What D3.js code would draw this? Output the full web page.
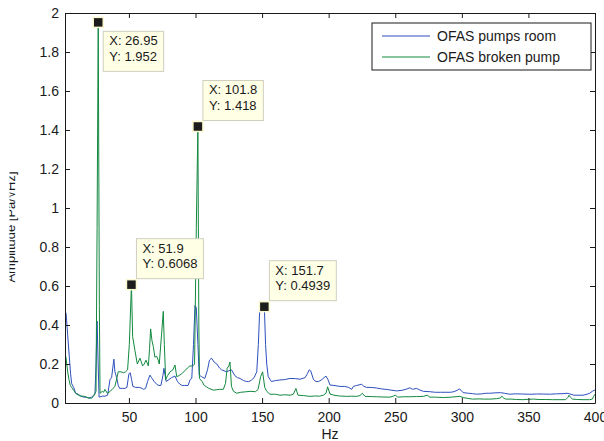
<!DOCTYPE html>
<html><head><meta charset="utf-8">
<script src="https://cdn.jsdelivr.net/npm/d3@7"></script>
<style>body{margin:0;background:#fff}svg{display:block}text{font-family:"Liberation Sans",Arial,sans-serif}</style>
</head><body>
<script>
const seriesNames = ["OFAS pumps room", "OFAS broken pump"];
const xTicks = [50,100,150,200,250,300,350,400];
const yTicks = [0,0.2,0.4,0.6,0.8,1,1.2,1.4,1.6,1.8,2];
const xLabel = "Hz";
const yLabel = "Amplitude [Pa/√Hz]";

const roomHz = [2,2.8,4,5.2,6.2,7,8.5,10,12,14,16,18,20,22,23.5,24.5,25.3,26.1,26.9,27.6,30,32,34,35.8,37,38.7,39.5,40.8,42,43,45,47,48.5,50,51,52,53,55,57,59,61,62.5,64,65.8,67,69,71,72.5,74,75.5,76.3,77.2,78,80,82,84.6,86.5,88.3,90,92,94.4,96,97.2,98.5,99.6,100.6,101.8,102.8,104.5,107,109,110.5,112,114,116,118,119.6,121.5,123.4,125,127,129.6,131.5,133.4,136,138.4,140,142,144,146,147.2,148.2,150,151.7,152.6,153.5,154.6,157,160,163.4,167,171,175,178.5,182.3,184,185.4,186.5,188.6,190.5,192.4,194.9,196.5,198,199.5,201,204,208.4,212,215,217.3,218.5,221,224.8,226.5,228.6,232,236,240,243,246,251,255,258,261,263,266,268,271,276,280,284,288,291.5,294,296.5,298,299.5,301,305,308,311,315,318,321,325,329,332,336,340,345,351,356,361,366,371,376,379,381,384,388,391,394,396,398,400];
const roomVal = [0.47,0.46,0.35,0.24,0.15,0.10,0.08,0.05,0.045,0.035,0.03,0.03,0.025,0.03,0.04,0.045,0.2,0.42,0.2,0.03,0.035,0.035,0.04,0.12,0.13,0.225,0.16,0.13,0.09,0.075,0.075,0.075,0.08,0.15,0.155,0.12,0.085,0.08,0.08,0.078,0.07,0.075,0.11,0.143,0.13,0.11,0.095,0.09,0.09,0.14,0.178,0.14,0.11,0.12,0.13,0.138,0.11,0.096,0.09,0.09,0.09,0.12,0.126,0.3,0.5,0.49,0.3,0.143,0.135,0.126,0.17,0.22,0.23,0.21,0.2,0.18,0.17,0.165,0.16,0.165,0.17,0.14,0.13,0.126,0.115,0.11,0.11,0.117,0.13,0.16,0.3,0.476,0.48,0.4939,0.3,0.2,0.135,0.11,0.115,0.118,0.12,0.126,0.125,0.122,0.13,0.15,0.17,0.165,0.12,0.11,0.11,0.12,0.13,0.138,0.12,0.092,0.09,0.085,0.085,0.08,0.07,0.085,0.09,0.096,0.085,0.08,0.08,0.077,0.072,0.07,0.067,0.062,0.065,0.07,0.078,0.07,0.075,0.068,0.06,0.058,0.055,0.055,0.055,0.055,0.058,0.065,0.072,0.065,0.053,0.05,0.048,0.045,0.047,0.05,0.05,0.052,0.053,0.05,0.045,0.047,0.046,0.045,0.046,0.046,0.045,0.047,0.048,0.05,0.047,0.04,0.04,0.04,0.045,0.05,0.06,0.067];

const pumpHz = [2,3,4,5,6,7,8.5,10,12,14,16,18,20,22,23.5,24.5,25.3,26.1,26.95,27.8,28.3,30,31,32,33.8,36,38,39.5,41,42,44,46,47.5,49,50.3,51.9,52.8,54.5,56.3,58.3,60.3,61.5,62.8,64.6,65.5,66.3,67.3,68.3,69.5,70.8,72,72.8,74.5,75.8,76.6,77.6,79,80.9,83,84.6,85.9,87.5,89.6,92,94,95.8,98,99.3,100.6,101.8,102.5,103,105,106.5,108.3,110,113.4,116,118,120.9,122.5,123.8,125,125.9,127,128.5,131,134,138.6,141,145,147,148.9,150.4,152,153.5,155.9,160,163.4,167,171,173.5,175.4,177,181,185.9,190,193,196,198,199.2,201,204,208,213.5,217,221,223.5,225.3,227.3,232,236,240,246,248.5,250,252,256,261,266,271,274,276,280,286,292,298.5,301,304,308,313,317,321,326,329,330,331.5,333,337,341,346,350,354,358,363,368,373,378,379.8,380.5,381.5,383,387,391,396,398,399,400];
const pumpVal = [0.26,0.22,0.16,0.12,0.09,0.08,0.065,0.05,0.04,0.035,0.035,0.03,0.025,0.025,0.035,0.05,0.06,0.9,1.952,0.5,0.05,0.06,0.055,0.07,0.05,0.06,0.075,0.085,0.13,0.16,0.16,0.155,0.16,0.17,0.3,0.6068,0.34,0.27,0.2,0.23,0.19,0.2,0.22,0.19,0.28,0.38,0.32,0.29,0.235,0.24,0.22,0.2,0.35,0.47,0.3,0.12,0.14,0.16,0.17,0.195,0.135,0.14,0.15,0.165,0.18,0.19,0.19,0.2,0.9,1.418,0.4,0.126,0.11,0.09,0.083,0.075,0.066,0.068,0.07,0.07,0.1,0.178,0.19,0.21,0.085,0.06,0.05,0.055,0.058,0.06,0.058,0.07,0.135,0.16,0.08,0.06,0.045,0.045,0.04,0.042,0.04,0.045,0.075,0.04,0.038,0.034,0.036,0.035,0.04,0.05,0.083,0.046,0.04,0.036,0.034,0.035,0.034,0.038,0.05,0.034,0.033,0.032,0.031,0.03,0.035,0.04,0.03,0.032,0.032,0.033,0.034,0.04,0.03,0.03,0.028,0.03,0.034,0.028,0.024,0.02,0.021,0.02,0.02,0.022,0.026,0.035,0.025,0.02,0.02,0.018,0.017,0.019,0.02,0.018,0.018,0.017,0.017,0.017,0.03,0.04,0.03,0.02,0.018,0.017,0.017,0.02,0.034,0.045];

const tipX = [26.95, 101.8, 51.9, 151.7];
const tipY = [1.952, 1.418, 0.6068, 0.4939];

const W = 604, H = 441;
const L = 65, R = 595, T = 13, B = 403;
const colors = ["#2e4fbd", "#12893f"];

const svg = d3.select("body").append("svg").attr("width", W).attr("height", H);
svg.append("rect").attr("width", W).attr("height", H).attr("fill", "#fff");

const x = d3.scaleLinear().domain([2, 400]).range([L, R]);
const y = d3.scaleLinear().domain([0, 2]).range([B, T]);

const defs = svg.append("defs");
defs.append("clipPath").attr("id", "plotclip").append("rect")
  .attr("x", L).attr("y", T).attr("width", R - L).attr("height", B - T);
defs.append("clipPath").attr("id", "ylabclip").append("rect")
  .attr("x", 9.5).attr("y", 0).attr("width", 20).attr("height", H);

// lines
const line = d3.line().x(d => x(d[0])).y(d => y(d[1]));
const seriesData = [
  roomHz.map((h, i) => [h, roomVal[i]]),
  pumpHz.map((h, i) => [h, pumpVal[i]])
];
const gl = svg.append("g").attr("clip-path", "url(#plotclip)");
seriesData.forEach((s, i) => {
  gl.append("path").datum(s).attr("d", line).attr("fill", "none")
    .attr("stroke", colors[i]).attr("stroke-width", 1).attr("stroke-linejoin", "round");
});

// axes
const fmt = d => String(+d.toFixed(1));
const axB = svg.append("g").attr("transform", `translate(0,${B})`)
  .call(d3.axisBottom(x).tickValues(xTicks).tickSizeInner(-5).tickSizeOuter(0).tickPadding(9).tickFormat(d3.format("d")));
const axT = svg.append("g").attr("transform", `translate(0,${T})`)
  .call(d3.axisTop(x).tickValues(xTicks).tickSizeInner(-5).tickSizeOuter(0).tickFormat(""));
const axLft = svg.append("g").attr("transform", `translate(${L},0)`)
  .call(d3.axisLeft(y).tickValues(yTicks).tickSizeInner(-5).tickSizeOuter(0).tickPadding(6).tickFormat(fmt));
const axRt = svg.append("g").attr("transform", `translate(${R},0)`)
  .call(d3.axisRight(y).tickValues(yTicks).tickSizeInner(-5).tickSizeOuter(0).tickFormat(""));
[axB, axT, axLft, axRt].forEach(g => {
  g.selectAll("path,line").attr("stroke", "#1a1a1a");
  g.selectAll("text").attr("fill", "#1a1a1a").style("font-size", "14px")
    .style("font-family", '"Liberation Sans",Arial,sans-serif');
});

// axis labels
svg.append("text").attr("x", (L + R) / 2).attr("y", 439).attr("text-anchor", "middle")
  .style("font-size", "14px").attr("fill", "#1a1a1a").text(xLabel);
svg.append("g").attr("clip-path", "url(#ylabclip)").append("text")
  .attr("transform", `translate(15,${227}) rotate(-90)`).attr("text-anchor", "middle")
  .style("font-size", "13px").attr("fill", "#1a1a1a").text(yLabel);

// legend
const lg = svg.append("g");
lg.append("rect").attr("x", 372).attr("y", 23).attr("width", 219).attr("height", 47)
  .attr("fill", "#fff").attr("stroke", "#1a1a1a");
seriesNames.forEach((n, i) => {
  const yy = 36 + i * 21;
  lg.append("line").attr("x1", 382).attr("x2", 430).attr("y1", yy).attr("y2", yy)
    .attr("stroke", colors[i]).attr("stroke-width", 1);
  lg.append("text").attr("x", 437).attr("y", yy + 5).style("font-size", "14px")
    .attr("fill", "#1a1a1a").text(n);
});

// data tips
const tg = svg.append("g");
tipX.forEach((tx, i) => {
  const cx = x(tx), cy = y(tipY[i]);
  const lines = ["X: " + tx, "Y: " + tipY[i]];
  const g = tg.append("g");
  const box = g.append("rect");
  const texts = lines.map((t, k) => g.append("text").style("font-size", "13px")
    .attr("fill", "#1a1a1a").text(t));
  const tw = d3.max(texts, t => t.node().getComputedTextLength());
  const bw = tw + 12, bh = 40;
  let top = cy - 6 - bh;
  if (top < T) top = cy + 9;
  const left = cx + 5;
  box.attr("x", left).attr("y", top).attr("width", bw).attr("height", bh)
    .attr("fill", "#ffffe6").attr("stroke", "#cfcfc0").attr("stroke-width", 1);
  texts.forEach((t, k) => t.attr("x", left + 6).attr("y", top + 14 + k * 15.5));
  g.append("rect").attr("x", cx - 5).attr("y", cy - 5).attr("width", 10).attr("height", 10)
    .attr("fill", "#1c1c1c").attr("stroke", "#fbf8cf").attr("stroke-width", 1.5);
});
</script>
</body></html>
